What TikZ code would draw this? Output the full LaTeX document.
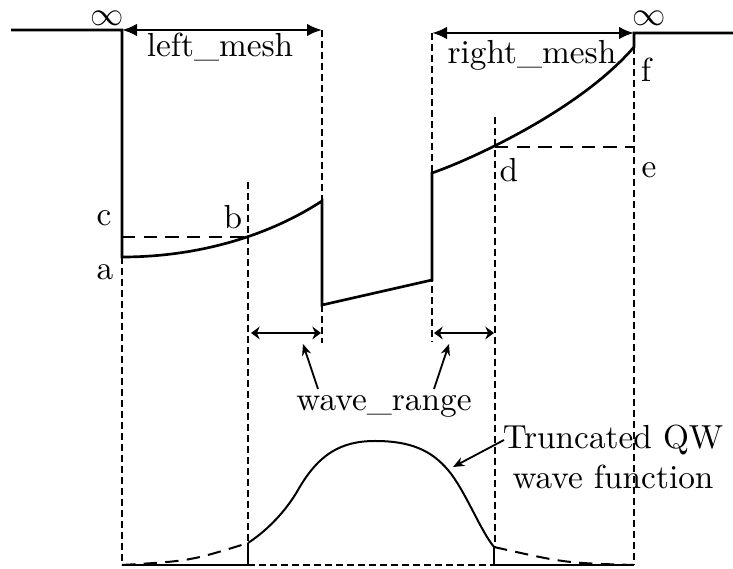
\documentclass[tikz,border=0pt]{standalone}
\usetikzlibrary{arrows.meta}
\begin{document}
\begin{tikzpicture}[x=0.3pt,y=-0.3pt,
  pot/.style={line width=0.8pt, line join=miter},
  guide/.style={line width=0.4pt, dash pattern=on 2pt off 1.3pt},
  lvl/.style={line width=0.8pt, dash pattern=on 4pt off 2.5pt},
  wf/.style={line width=0.6pt},
  wfd/.style={line width=0.6pt, dash pattern=on 4pt off 2.5pt},
  meshar/.style={line width=0.8pt, {Latex[length=4.5pt,width=3.8pt]}-{Latex[length=4.5pt,width=3.8pt]}},
  rangear/.style={line width=0.75pt, {Stealth[length=2.6pt,width=3.8pt]}-{Stealth[length=2.6pt,width=3.8pt]}},
  callout/.style={line width=0.55pt, -{Stealth[length=3.4pt,width=2.8pt]}},
  lbl/.style={inner sep=0pt}]
\useasboundingbox (0,0) rectangle (733,569);
% key points
\coordinate (L0) at (11,30);
\coordinate (LT) at (122,30);
\coordinate (a) at (122,257);
\coordinate (c) at (122,237);
\coordinate (b) at (248,237);
\coordinate (W1t) at (322,201);
\coordinate (W1b) at (322,305);
\coordinate (W2b) at (432,280);
\coordinate (W2t) at (432,173);
\coordinate (d) at (495,147);
\coordinate (e) at (634,147);
\coordinate (fb) at (634,47);
\coordinate (RT) at (634,33);
\coordinate (R0) at (733,33);
\coordinate (LM) at (322,30);
\coordinate (RM) at (432,33);
% guides
\draw[guide] (a) -- (122,565);
\draw[guide] (248,182) -- (248,543);
\draw[guide] (LM) -- (322,343);
\draw[guide] (RM) -- (432,342);
\draw[guide] (495,117) -- (495,547);
\draw[guide] (fb) -- (634,565);
% potential
\draw[pot] (L0) -- (LT) -- (a) .. controls (200,257) and (270,235) .. (W1t) -- (W1b) -- (W2b) -- (W2t) .. controls (470,160) and (580,110) .. (fb) -- (RT) -- (R0);
\draw[lvl] (c) -- (b);
\draw[lvl] (d) -- (e);
% mesh arrows
\draw[meshar] (LT) -- (LM);
\draw[meshar] (RM) -- (RT);
% range arrows
\coordinate (r1a) at (251,333);
\coordinate (r1b) at (321,333);
\coordinate (r2a) at (434,333);
\coordinate (r2b) at (494,333);
\draw[rangear] (r1a) -- (r1b);
\draw[rangear] (r2a) -- (r2b);
% wave function
\coordinate (wl) at (248,543);
\coordinate (wr) at (494,547);
\coordinate (wpk) at (375,441);
\draw[wf] (wl) .. controls (268,530) and (286.6,510) .. (298,490) .. controls (318,455) and (340,441) .. (wpk)
  .. controls (410,441) and (431,450) .. (448,470) .. controls (465,490) and (480,530) .. (wr);
\draw[wfd] (122,565) .. controls (190,561) .. (wl);
\draw[wfd] (wr) .. controls (565,563) .. (634,565);
\draw[wf] (wl) -- (248,565);
\draw[wf] (wr) -- (494,565);
\draw[wf] (122,565) -- (248,565);
\draw[guide] (248,565) -- (494,565);
\draw[wf] (494,565) -- (634,565);
% labels
\node[lbl] (inf1) at (107,18) {$\infty$};
\node[lbl] (inf2) at (649,18) {$\infty$};
\node[lbl] (lmesh) at (220,47) {left\_mesh};
\node[lbl] (rmesh) at (532,55) {right\_mesh};
\node[lbl] (la) at (105,272) {a};
\node[lbl] (lb) at (233,217) {b};
\node[lbl] (lc) at (104,218) {c};
\node[lbl] (ld) at (509,170) {d};
\node[lbl] (le) at (649,170) {e};
\node[lbl] (lf) at (646,70) {f};
\node[lbl] (wrange) at (384,406) {wave\_range};
\node[lbl, align=center] (tqw) at (613,457) {Truncated QW\\wave function};
% callouts
\coordinate (c1s) at (318,389);
\coordinate (c1e) at (303,344);
\coordinate (c2s) at (434,389);
\coordinate (c2e) at (449,344);
\coordinate (c3s) at (504,440);
\coordinate (c3e) at (453,467);
\draw[callout] (c1s) -- (c1e);
\draw[callout] (c2s) -- (c2e);
\draw[callout] (c3s) -- (c3e);
\end{tikzpicture}
\end{document}
